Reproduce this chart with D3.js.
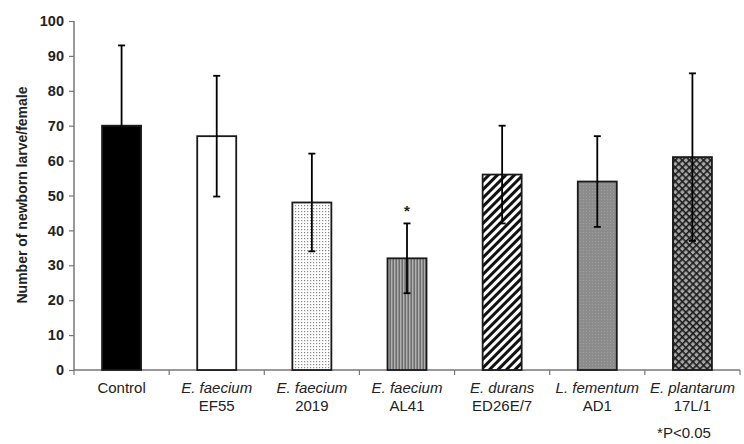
<!DOCTYPE html>
<html><head><meta charset="utf-8">
<script src="https://cdn.jsdelivr.net/npm/d3@7"></script>
<style>body{margin:0;background:#fff}svg{display:block}text{font-family:"Liberation Sans",Arial,sans-serif}</style>
</head><body><svg id="c" width="744" height="444"></svg>
<script>
const species = ["", "E. faecium", "E. faecium", "E. faecium", "E. durans", "L. fementum", "E. plantarum"];
const strains = ["Control", "EF55", "2019", "AL41", "ED26E/7", "AD1", "17L/1"];
const means = [70, 67, 48, 32, 56, 54, 61];
const errs = [23, 17.3, 14, 10, 14, 13, 24];
const significant = [false, false, false, true, false, false, false];
const fills = ["black", "white", "dots", "vlines", "diag", "graydots", "cross"];
const yTicks = [0,10,20,30,40,50,60,70,80,90,100];

const svg = d3.select("#c");
const defs = svg.append("defs");
let p = defs.append("pattern").attr("id","dots").attr("width",3).attr("height",3).attr("patternUnits","userSpaceOnUse");
p.append("rect").attr("width",3).attr("height",3).attr("fill","#fff");
p.append("rect").attr("x",1).attr("y",1).attr("width",1.2).attr("height",1.2).attr("fill","#888");
p = defs.append("pattern").attr("id","vlines").attr("width",3).attr("height",3).attr("patternUnits","userSpaceOnUse");
p.append("rect").attr("width",3).attr("height",3).attr("fill","#8a8a8a");
p.append("rect").attr("x",1).attr("width",1).attr("height",3).attr("fill","#b0b0b0");
p.append("rect").attr("x",0).attr("width",1).attr("height",3).attr("fill","#6e6e6e");
p = defs.append("pattern").attr("id","diag").attr("width",6).attr("height",6).attr("patternUnits","userSpaceOnUse").attr("patternTransform","rotate(45)");
p.append("rect").attr("width",6).attr("height",6).attr("fill","#fff");
p.append("rect").attr("width",3).attr("height",6).attr("fill","#111");
p = defs.append("pattern").attr("id","graydots").attr("width",3).attr("height",3).attr("patternUnits","userSpaceOnUse");
p.append("rect").attr("width",3).attr("height",3).attr("fill","#8c8c8c");
p.append("rect").attr("x",1).attr("y",1).attr("width",1).attr("height",1).attr("fill","#9e9e9e");
p = defs.append("pattern").attr("id","cross").attr("width",5).attr("height",5).attr("patternUnits","userSpaceOnUse").attr("patternTransform","rotate(45)");
p.append("rect").attr("width",5).attr("height",5).attr("fill","#a8a8a8");
p.append("rect").attr("width",5).attr("height",1.6).attr("fill","#1a1a1a");
p.append("rect").attr("width",1.6).attr("height",5).attr("fill","#1a1a1a");

const fillOf = f => f==="black" ? "#000" : f==="white" ? "#fff" : `url(#${f})`;

const x = d3.scaleBand().domain(strains).range([74, 740]).paddingInner(0.59).paddingOuter(0.295);
const y = d3.scaleLinear().domain([0,100]).range([370, 21]);

const ya = svg.append("g").attr("transform","translate(74,0)")
  .call(d3.axisLeft(y).tickValues(yTicks).tickSize(5).tickPadding(5));
ya.select(".domain").attr("stroke","#777").attr("stroke-width",1.5).attr("d","M0,21V370");
ya.selectAll(".tick line").attr("stroke","#777").attr("stroke-width",1.2);
ya.selectAll(".tick text").attr("font-size",14.5).attr("font-weight","bold").attr("fill","#222")
  .attr("font-family","'Liberation Sans',Arial,sans-serif");

svg.append("text").attr("transform","translate(27,195) rotate(-90)").attr("text-anchor","middle")
  .attr("font-size",14).attr("font-weight","bold").attr("fill","#222").text("Number of newborn larve/female");

const band = x.step();
svg.append("line").attr("x1",74).attr("x2",740).attr("y1",370).attr("y2",370).attr("stroke","#777").attr("stroke-width",1.5);
svg.selectAll(".sep").data(d3.range(0,8)).join("line")
  .attr("x1",i=>74+i*band).attr("x2",i=>74+i*band).attr("y1",370).attr("y2",375)
  .attr("stroke","#777").attr("stroke-width",1.2);

const g = svg.append("g");
strains.forEach((s,i)=>{
  const cx = x(s)+x.bandwidth()/2;
  g.append("rect").attr("x",x(s)).attr("y",y(means[i])).attr("width",x.bandwidth()).attr("height",y(0)-y(means[i]))
    .attr("fill",fillOf(fills[i])).attr("stroke","#1a1a1a").attr("stroke-width",1.8);
  const lo = means[i]-errs[i], hi = means[i]+errs[i];
  g.append("line").attr("x1",cx).attr("x2",cx).attr("y1",y(lo)).attr("y2",y(hi)).attr("stroke","#000").attr("stroke-width",1.8);
  [lo,hi].forEach(v=>g.append("line").attr("x1",cx-3.5).attr("x2",cx+3.5).attr("y1",y(v)).attr("y2",y(v)).attr("stroke","#000").attr("stroke-width",1.8));
  if (significant[i]) g.append("text").attr("x",cx).attr("y",y(hi)-7).attr("text-anchor","middle")
    .attr("font-size",15).attr("font-weight","bold").attr("fill","#222").text("*");
  const t = svg.append("text").attr("x",cx).attr("text-anchor","middle").attr("font-size",15).attr("fill","#222");
  if (species[i]) {
    t.append("tspan").attr("x",cx).attr("y",393).attr("font-style","italic").text(species[i]);
    t.append("tspan").attr("x",cx).attr("y",411).text(s);
  } else {
    t.append("tspan").attr("x",cx).attr("y",393).text(s);
  }
});
svg.append("text").attr("x",684).attr("y",438).attr("text-anchor","middle").attr("font-size",15).attr("fill","#222").text("*P<0.05");
</script></body></html>
